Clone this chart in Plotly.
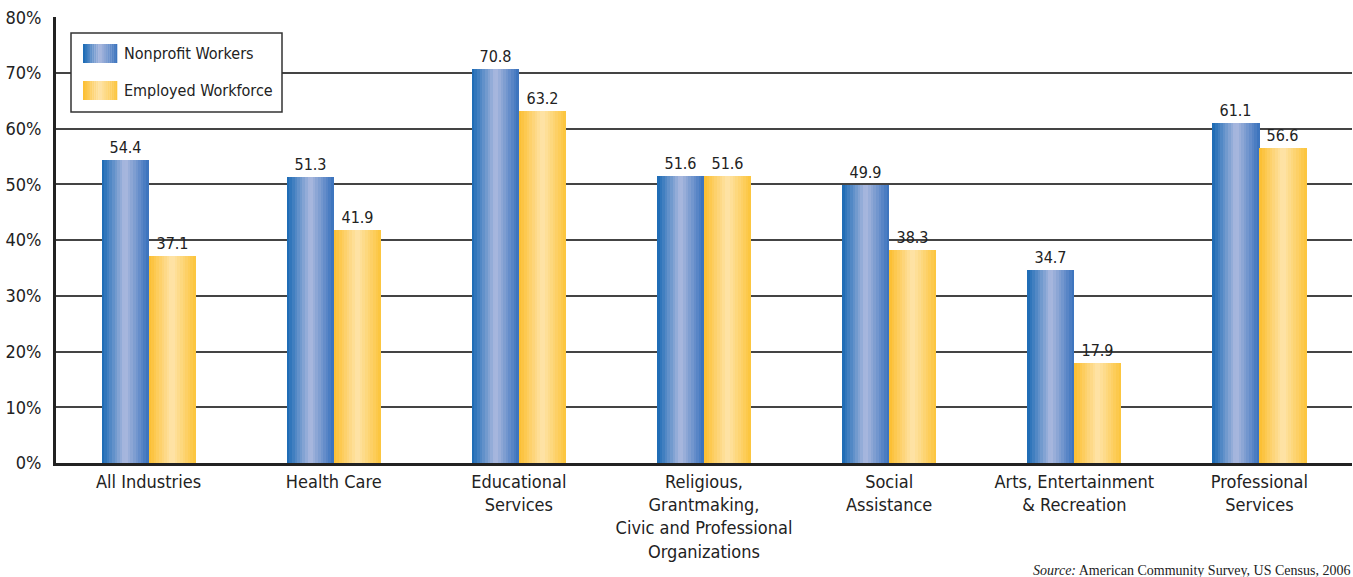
import plotly.graph_objects as go

categories = ["All Industries", "Health Care", "Educational<br>Services",
              "Religious,<br>Grantmaking,<br>Civic and Professional<br>Organizations",
              "Social<br>Assistance", "Arts, Entertainment<br>& Recreation",
              "Professional<br>Services"]
nonprofit = [54.4, 51.3, 70.8, 51.6, 49.9, 34.7, 61.1]
employed = [37.1, 41.9, 63.2, 51.6, 38.3, 17.9, 56.6]
series_names = ["Nonprofit Workers", "Employed Workforce"]
y_ticks = [0, 10, 20, 30, 40, 50, 60, 70, 80]
source_text = "<i>Source:</i> American Community Survey, US Census, 2006"

W, H = 1353, 577
L, R, T, B = 56, 1, 17, 114
PW, PH = W - L - R, H - T - B

blue_stops = [(0.0, (24, 104, 180)), (0.5, (172, 186, 223)), (1.0, (56, 113, 188))]
gold_stops = [(0.0, (252, 190, 46)), (0.5, (254, 228, 170)), (1.0, (252, 196, 58))]


def grad(stops, t):
    for (t0, c0), (t1, c1) in zip(stops[:-1], stops[1:]):
        if t0 <= t <= t1:
            f = (t - t0) / (t1 - t0)
            c = [round(a + (b - a) * f) for a, b in zip(c0, c1)]
            return "rgb(%d,%d,%d)" % tuple(c)
    return "rgb(%d,%d,%d)" % stops[-1][1]


FONT = "Liberation Sans Narrow, DejaVu Sans Condensed, Arial Narrow, sans-serif"
N = 18
bw = 47 / 185.0
x_idx = list(range(len(categories)))

fig = go.Figure()
for vals, base, stops in [(nonprofit, -bw, blue_stops), (employed, 0.0, gold_stops)]:
    for i in range(N):
        col = grad(stops, (i + 0.5) / N)
        fig.add_trace(go.Bar(
            x=x_idx, y=vals, offset=base + i * bw / N, width=bw / N + 0.0005,
            marker=dict(color=col, line=dict(width=0)),
            showlegend=False, hoverinfo="skip"))
    fig.add_trace(go.Bar(
        x=x_idx, y=vals, offset=base, width=bw,
        marker=dict(color="rgba(0,0,0,0)", line=dict(width=0)),
        text=["%.1f" % v for v in vals], textposition="outside",
        textfont=dict(family=FONT, size=16, color="#222"),
        cliponaxis=False, showlegend=False))


# screen-pixel -> paper coordinates
def px(x):
    return (x - L) / PW


def py(y):
    return (H - B - y) / PH


shapes = [dict(type="rect", xref="paper", yref="paper",
               x0=px(71), x1=px(282), y0=py(112), y1=py(33),
               fillcolor="white", line=dict(color="#333", width=1.5), layer="above")]
annotations = []
for (stops, y0, y1, name) in [(blue_stops, 44, 63, series_names[0]),
                              (gold_stops, 81, 100, series_names[1])]:
    sx0, sx1 = 83, 117
    for i in range(N):
        a = sx0 + (sx1 - sx0) * i / N
        b = sx0 + (sx1 - sx0) * (i + 1) / N + 0.3
        shapes.append(dict(type="rect", xref="paper", yref="paper",
                           x0=px(a), x1=px(b), y0=py(y1), y1=py(y0),
                           fillcolor=grad(stops, (i + 0.5) / N),
                           line=dict(width=0), layer="above"))
    annotations.append(dict(text=name, xref="paper", yref="paper",
                            x=px(122), y=py((y0 + y1) / 2), xanchor="left", yanchor="middle",
                            showarrow=False, font=dict(family=FONT, size=16, color="#222")))

annotations.append(dict(text=source_text, xref="paper", yref="paper",
                        x=px(1352), y=py(561), xanchor="right", yanchor="top",
                        showarrow=False,
                        font=dict(family="Liberation Serif, DejaVu Serif, serif", size=14, color="#222")))

fig.update_layout(
    width=W, height=H, margin=dict(l=L, r=R, t=T, b=B, autoexpand=False),
    paper_bgcolor="white", plot_bgcolor="white",
    barmode="overlay", bargap=0,
    shapes=shapes, annotations=annotations,
    showlegend=False,
    xaxis=dict(tickmode="array", tickvals=x_idx, ticktext=categories,
               range=[-0.5, len(categories) - 0.5], showgrid=False,
               showline=True, linecolor="#222", linewidth=3, ticks="",
               automargin=False,
               tickfont=dict(family=FONT, size=18, color="#222"), zeroline=False),
    yaxis=dict(range=[0, 80.05], tickmode="array", tickvals=y_ticks,
               ticktext=["%d%%" % v for v in y_ticks],
               showgrid=True, gridcolor="#444", gridwidth=1.5,
               showline=True, linecolor="#222", linewidth=3, ticks="",
               ticklabelstandoff=8, zeroline=False, automargin=False,
               tickfont=dict(family=FONT, size=18, color="#222")),
)

fig.write_html("out.html", config={"displayModeBar": False},
               post_script="document.body.style.margin='0';document.body.style.overflow='hidden';")
